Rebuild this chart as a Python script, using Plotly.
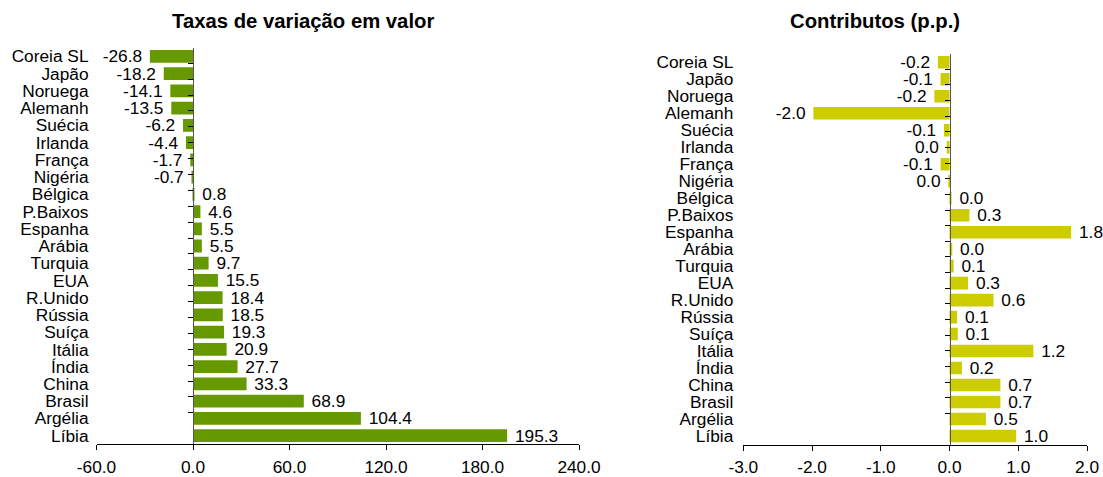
import plotly.graph_objects as go

countries = ["Coreia SL", "Japão", "Noruega", "Alemanh", "Suécia", "Irlanda", "França",
             "Nigéria", "Bélgica", "P.Baixos", "Espanha", "Arábia", "Turquia", "EUA",
             "R.Unido", "Rússia", "Suíça", "Itália", "Índia", "China", "Brasil",
             "Argélia", "Líbia"]

taxas = [-26.8, -18.2, -14.1, -13.5, -6.2, -4.4, -1.7, -0.7, 0.8, 4.6, 5.5, 5.5, 9.7,
         15.5, 18.4, 18.5, 19.3, 20.9, 27.7, 33.3, 68.9, 104.4, 195.3]
contributos = [-0.17, -0.13, -0.22, -1.98, -0.08, -0.04, -0.13, -0.01, 0.03, 0.29, 1.77,
               0.04, 0.06, 0.27, 0.64, 0.11, 0.12, 1.22, 0.18, 0.74, 0.74, 0.53, 0.97]

left_ticks = [-60, 0, 60, 120, 180, 240]
right_ticks = [-3, -2, -1, 0, 1, 2]

title_left = "Taxas de variação em valor"
title_right = "Contributos (p.p.)"

GREEN = "#669900"
YELLOW = "#CCCC00"
FONT = "Liberation Sans, Arial, sans-serif"
FS = 17.3
NBSP = "\u00a0"

# the page's body margin is removed (post_script below), so the figure fills the window
W, H = 1103, 477


def px_x(p):
    return p / W


def px_y(p):
    return 1 - p / H


def fmt(v):
    return f"{round(v, 1) + 0.0:.1f}"


def bar_label(v):
    s = fmt(v)
    return s + NBSP if v < 0 else NBSP + s


# plot areas, in window pixels
lx0, lx1 = px_x(96.5), px_x(579)
rx0, rx1 = px_x(743.3), px_x(1087)
ly_top, ly_bot = px_y(47.7), px_y(444.3)
ry_top, ry_bot = px_y(53.8), px_y(444.5)

fig = go.Figure()

fig.add_trace(go.Bar(
    y=countries, x=taxas, orientation="h", marker=dict(color=GREEN, line=dict(width=0)),
    text=[bar_label(v) for v in taxas], textposition="outside", cliponaxis=False,
    constraintext="none",
    textfont=dict(size=FS, color="black", family=FONT),
    xaxis="x", yaxis="y", showlegend=False, hoverinfo="x+y",
))
fig.add_trace(go.Bar(
    y=countries, x=contributos, orientation="h", marker=dict(color=YELLOW, line=dict(width=0)),
    text=[bar_label(v) for v in contributos], textposition="outside", cliponaxis=False,
    constraintext="none",
    textfont=dict(size=FS, color="black", family=FONT),
    xaxis="x2", yaxis="y2", showlegend=False, hoverinfo="x+y",
))
# invisible traces to carry the zero-line category axes
fig.add_trace(go.Scatter(y=countries, x=[0] * len(countries), mode="markers",
                         marker=dict(opacity=0), xaxis="x", yaxis="y3",
                         showlegend=False, hoverinfo="skip"))
fig.add_trace(go.Scatter(y=countries, x=[0] * len(countries), mode="markers",
                         marker=dict(opacity=0), xaxis="x2", yaxis="y4",
                         showlegend=False, hoverinfo="skip"))

lrange = [left_ticks[0], left_ticks[-1]]
rrange = [right_ticks[0], right_ticks[-1]]
pos_left = lx0 + (0 - lrange[0]) / (lrange[1] - lrange[0]) * (lx1 - lx0)
pos_right = rx0 + (0 - rrange[0]) / (rrange[1] - rrange[0]) * (rx1 - rx0)

xcommon = dict(showgrid=False, zeroline=False, showline=True, linecolor="black",
               linewidth=1, ticks="outside", ticklen=5, tickcolor="black",
               automargin=False, ticklabelstandoff=2,
               tickfont=dict(size=FS, color="black", family=FONT), fixedrange=True)

ycat = dict(type="category", categoryarray=countries, autorange="reversed",
            tickmode="array", tickvals=countries, ticktext=countries,
            showgrid=False, zeroline=False, showline=False, ticks="",
            automargin=False,
            tickfont=dict(size=FS, color="black", family=FONT))

yzero = dict(type="category", categoryarray=countries, autorange="reversed",
             showgrid=False, zeroline=False, showline=True, linecolor="#555555",
             linewidth=1, ticks="outside", ticklen=5, tickcolor="black",
             automargin=False,
             tickson="boundaries", showticklabels=False, anchor="free")

fig.update_layout(
    width=W, height=H, margin=dict(l=0, r=0, t=0, b=0, autoexpand=False),
    paper_bgcolor="white", plot_bgcolor="white",
    bargap=0.26, font=dict(family=FONT, color="black"),
    xaxis=dict(domain=[lx0, lx1], range=lrange, tickvals=left_ticks,
               ticktext=[fmt(v) for v in left_ticks], anchor="y", **xcommon),
    xaxis2=dict(domain=[rx0, rx1], range=rrange, tickvals=right_ticks,
                ticktext=[fmt(v) for v in right_ticks], anchor="y2", **xcommon),
    yaxis=dict(domain=[ly_bot, ly_top], anchor="x", ticklabelstandoff=7, **ycat),
    yaxis2=dict(domain=[ry_bot, ry_top], anchor="x2", ticklabelstandoff=9, **ycat),
    yaxis3=dict(domain=[ly_bot, ly_top], overlaying="y", position=pos_left, **yzero),
    yaxis4=dict(domain=[ry_bot, ry_top], overlaying="y2", position=pos_right, **yzero),
    annotations=[
        dict(text=f"<b>{title_left}</b>", x=px_x(303), y=px_y(21), xref="paper",
             yref="paper", showarrow=False, xanchor="center", yanchor="middle",
             font=dict(size=20.3, color="black", family=FONT)),
        dict(text=f"<b>{title_right}</b>", x=px_x(875), y=px_y(21), xref="paper",
             yref="paper", showarrow=False, xanchor="center", yanchor="middle",
             font=dict(size=20.3, color="black", family=FONT)),
    ],
)

fig.write_html("out.html",
               config={"displayModeBar": False},
               post_script="document.body.style.margin='0px';"
                           "document.body.style.overflow='hidden';")
